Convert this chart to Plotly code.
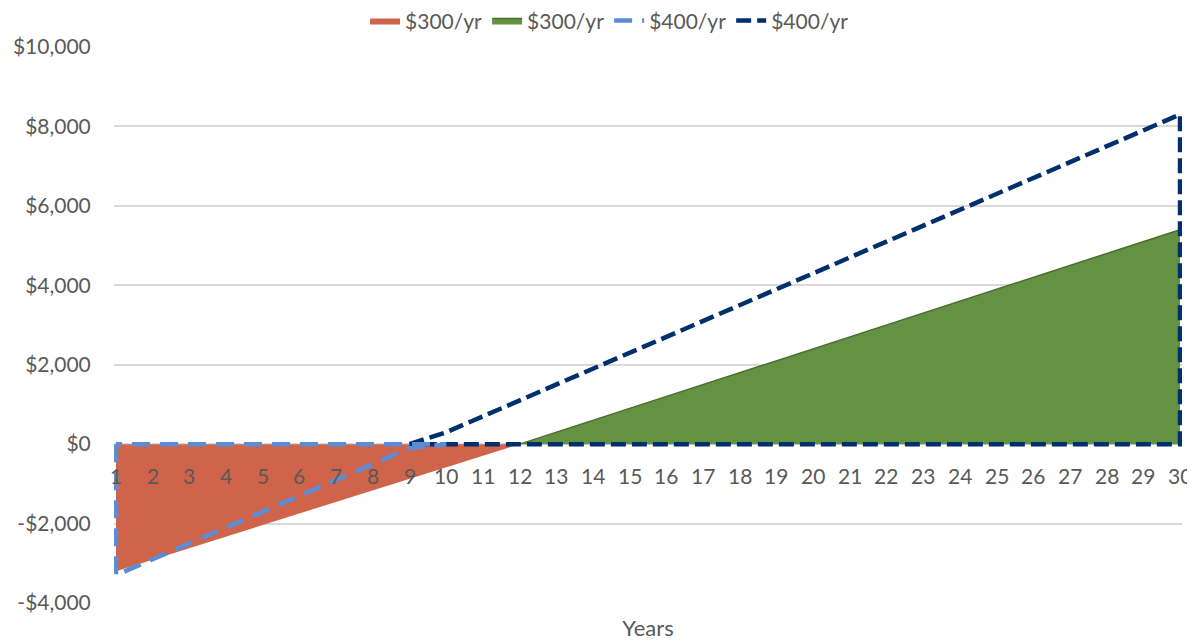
import plotly.graph_objects as go

# --- data ---
years = list(range(1, 31))
tick_vals_y = [-4000, -2000, 0, 2000, 4000, 6000, 8000, 10000]
tick_text_y = ["-$4,000", "-$2,000", "$0", "$2,000", "$4,000", "$6,000", "$8,000", "$10,000"]

# $300/yr: negative part (years 1-12) and positive part (years 12-30)
neg300_years = years[0:12]
neg300 = [-3200, -2910, -2620, -2330, -2040, -1750, -1450, -1160, -870, -580, -290, 0]
pos300_years = years[11:30]
pos300 = [0, 300, 600, 900, 1200, 1500, 1800, 2100, 2400, 2700, 3000,
          3300, 3600, 3900, 4200, 4500, 4800, 5100, 5400]

# $400/yr: negative part (years 1-10) and positive part (years 9-30)
neg400_years = years[0:10]
neg400 = [-3300, -2900, -2500, -2100, -1700, -1300, -900, -500, -100, 0]
pos400_years = years[8:30]
pos400 = [0, 300, 700, 1100, 1500, 1900, 2300, 2700, 3100, 3500, 3900,
          4300, 4700, 5100, 5500, 5900, 6300, 6700, 7100, 7500, 7900, 8300]

FONT = "Lato"
GREY = "#595959"


def outline(xs, ys):
    # closed outline of an area: along the first edge, the values, back along zero
    ox = [xs[0]] + xs + [xs[-1], xs[0]]
    oy = [0] + ys + [0, 0]
    return ox, oy


fig = go.Figure()

fig.add_trace(go.Scatter(
    x=neg300_years, y=neg300, name="$300/yr", mode="lines",
    fill="tozeroy", fillcolor="#D0644A", line=dict(color="#D0644A", width=0),
))
fig.add_trace(go.Scatter(
    x=pos300_years, y=pos300, name="$300/yr", mode="lines",
    fill="tozeroy", fillcolor="#649142", line=dict(color="#4A6E2E", width=1.5),
))

ox, oy = outline(pos400_years, pos400)
fig.add_trace(go.Scatter(
    x=ox, y=oy, name="$400/yr", mode="lines", showlegend=False,
    line=dict(color="#002F6E", width=4.5, dash="15px,6px"),
))
ox, oy = outline(neg400_years, neg400)
fig.add_trace(go.Scatter(
    x=ox, y=oy, name="$400/yr", mode="lines",
    line=dict(color="#5B8DD6", width=4.5, dash="18px,10px"),
))
# legend entry for the navy outline (keeps legend order)
fig.add_trace(go.Scatter(
    x=[None], y=[None], name="$400/yr", mode="lines",
    line=dict(color="#002F6E", width=4.5, dash="15px,6px"),
))

# category labels sit just under the zero line, like the spreadsheet chart
for yr in years:
    fig.add_annotation(
        x=yr, y=0, text=str(yr), showarrow=False,
        yanchor="middle", yshift=-31,
        font=dict(family=FONT, size=21, color=GREY),
    )

# page body adds an 8px offset, margins account for it
fig.update_layout(
    width=1195, height=642,
    margin=dict(l=106, r=21, t=39, b=47, autoexpand=False),
    paper_bgcolor="white", plot_bgcolor="white",
    font=dict(family=FONT, size=21, color=GREY),
    showlegend=True,
    legend=dict(
        orientation="h", x=0.464, xanchor="center", y=1.047, yanchor="middle",
        font=dict(family=FONT, size=21, color=GREY),
        itemwidth=30, tracegroupgap=0, bgcolor="rgba(0,0,0,0)",
    ),
    xaxis=dict(
        range=[1 - 0.054, 30 + 0.054],
        showticklabels=False, showgrid=False, zeroline=False, showline=False,
        automargin=False,
        title=dict(text="Years", font=dict(family=FONT, size=22, color=GREY), standoff=17),
    ),
    yaxis=dict(
        range=[-4000, 10000],
        tickvals=tick_vals_y, ticktext=tick_text_y,
        showgrid=True, gridcolor="#D9D9D9", gridwidth=1.5,
        zeroline=False, showline=False, automargin=False,
        ticks="outside", ticklen=0, ticklabelstandoff=18,
        tickfont=dict(family=FONT, size=21, color=GREY),
    ),
)

fig.write_html("out.html")
